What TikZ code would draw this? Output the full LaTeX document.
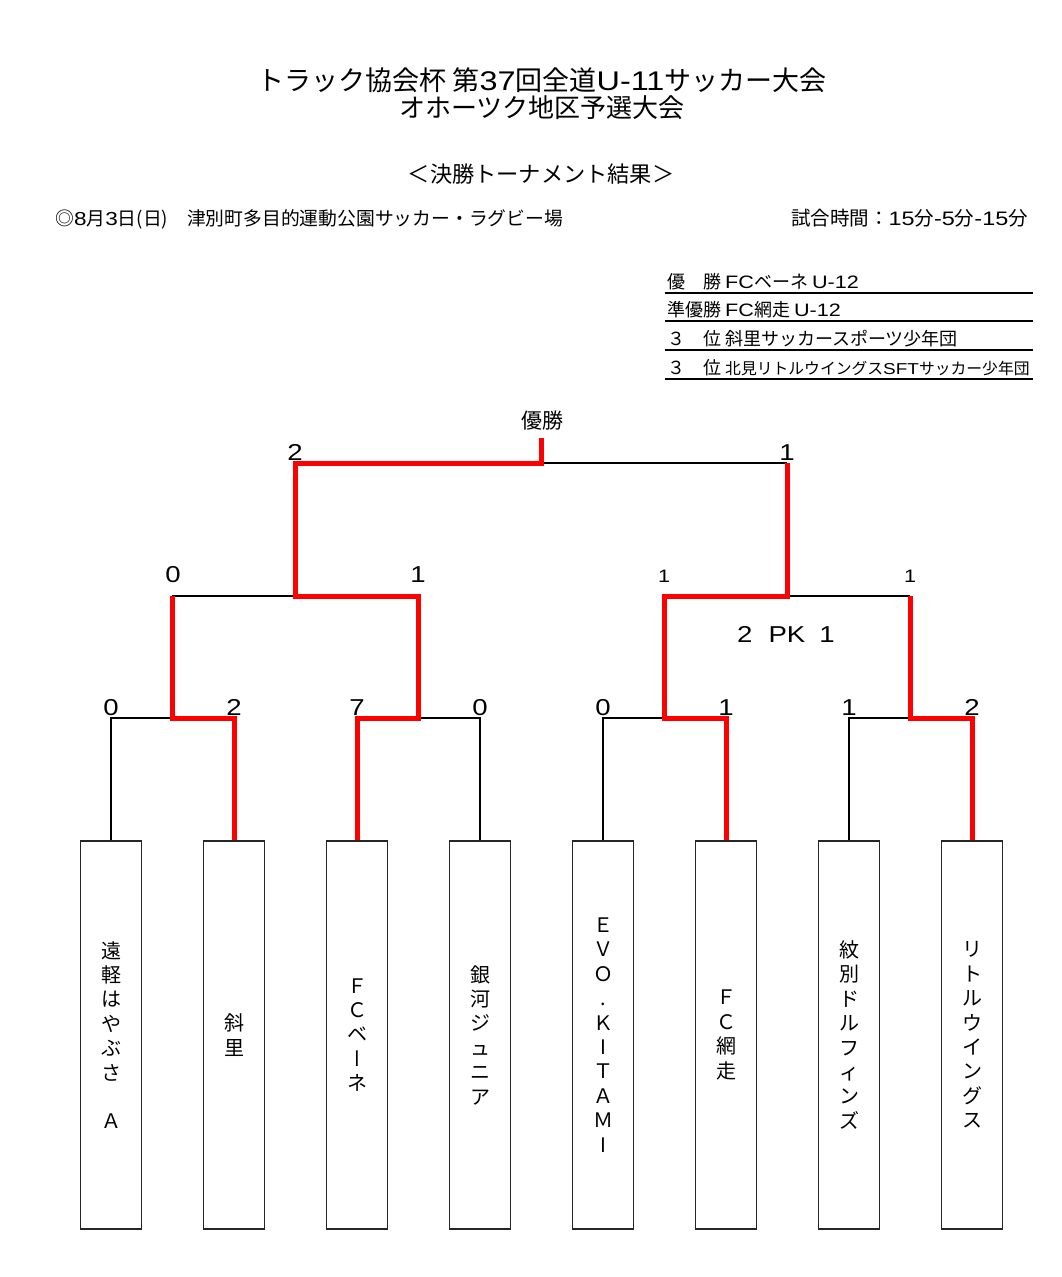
\documentclass[tikz,border=0pt]{standalone}
\usepackage{fontspec}
\setmainfont{Noto Sans CJK JP}
\newfontfamily\lat[FakeStretch=1.2]{Liberation Sans}
\newcommand\vchoon{{\addfontfeature{RawFeature=+vert}ー}}
\begin{document}
\begin{tikzpicture}[x=1pt,y=-1pt,
  teambox/.style={draw=black!85, line width=1.6pt, minimum width=61pt, minimum height=388pt, inner sep=0pt, align=center, font=\fontsize{20}{24.4}\selectfont},
  blackline/.style={line width=1.8pt, black},
  redline/.style={line width=5pt, red, line join=miter},
  scorelbl/.style={anchor=base, inner sep=0pt, font=\fontsize{23}{23}\selectfont\lat},
  smallscore/.style={anchor=base, inner sep=0pt, font=\fontsize{18}{18}\selectfont\lat},
  txt/.style={inner sep=0pt, anchor=base}
]
\useasboundingbox[fill=white] (0,0) rectangle (1062,1277);

% header
\node[txt, font=\fontsize{27}{27}\selectfont] (title1) at (542,90) {トラック協会杯 第{\lat 37}回全道{\lat U-11}サッカー大会};
\node[txt, font=\fontsize{26}{26}\selectfont] (title2) at (542,117) {オホーツク地区予選大会};
\node[txt, font=\fontsize{22.2}{22.2}\selectfont] (sub) at (541,182) {＜決勝トーナメント結果＞};
\node[txt, anchor=base west, font=\fontsize{18.8}{18.8}\selectfont] (date) at (55,225) {◎{\lat 8}月{\lat 3}日(日)　津別町多目的運動公園サッカー・ラグビー場};
\node[txt, anchor=base east, font=\fontsize{19.5}{19.5}\selectfont] (time) at (1028,225) {試合時間：{\lat 15}分{\lat -5}分{\lat -15}分};

% results table
\node[txt, anchor=base west, font=\fontsize{18}{18}\selectfont] (res1) at (667,288) {優　勝 {\lat FC}ベーネ {\lat U-12}};
\node[txt, anchor=base west, font=\fontsize{18}{18}\selectfont] (res2) at (667,316) {準優勝 {\lat FC}網走 {\lat U-12}};
\node[txt, anchor=base west, font=\fontsize{18}{18}\selectfont] (res3) at (667,345) {３　位 斜里サッカースポーツ少年団};
\node[txt, anchor=base west, font=\fontsize{18}{18}\selectfont] (res4) at (667,374) {３　位 {\fontsize{15.8}{15.8}\selectfont 北見リトルウイングス{\lat SFT}サッカー少年団}};
\coordinate (ul1a) at (665,293); \coordinate (ul1b) at (1033,293);
\coordinate (ul2a) at (665,321); \coordinate (ul2b) at (1033,321);
\coordinate (ul3a) at (665,350); \coordinate (ul3b) at (1033,350);
\coordinate (ul4a) at (665,379); \coordinate (ul4b) at (1033,379);
\draw[line width=1.8pt] (ul1a) -- (ul1b);
\draw[line width=1.8pt] (ul2a) -- (ul2b);
\draw[line width=1.8pt] (ul3a) -- (ul3b);
\draw[line width=1.8pt] (ul4a) -- (ul4b);

% team boxes
\node[teambox] (t1) at (111,1035) {遠\\軽\\は\\や\\ぶ\\さ\\　\\Ａ};
\node[teambox] (t2) at (234,1035) {斜\\里};
\node[teambox] (t3) at (357,1035) {Ｆ\\Ｃ\\ベ\\\vchoon\\ネ};
\node[teambox] (t4) at (480,1035) {銀\\河\\ジ\\ュ\\ニ\\ア};
\node[teambox] (t5) at (603,1035) {Ｅ\\Ｖ\\Ｏ\\.\\Ｋ\\I\\Ｔ\\Ａ\\Ｍ\\I};
\node[teambox] (t6) at (726,1035) {Ｆ\\Ｃ\\網\\走};
\node[teambox] (t7) at (849,1035) {紋\\別\\ド\\ル\\フ\\ィ\\ン\\ズ};
\node[teambox] (t8) at (972,1035) {リ\\ト\\ル\\ウ\\イ\\ン\\グ\\ス};

% junctions
\coordinate (m1) at (172,718);
\coordinate (m2) at (418,718);
\coordinate (m3) at (664,718);
\coordinate (m4) at (910,718);
\coordinate (s1) at (295,596);
\coordinate (s2) at (787,596);
\coordinate (f) at (541,463);
\coordinate (champ) at (541,438);

% black lines
\draw[blackline] (t1.north) |- (m1);
\draw[blackline] (t4.north) |- (m2);
\draw[blackline] (t5.north) |- (m3);
\draw[blackline] (t7.north) |- (m4);
\draw[blackline] (m1 |- s1) -- (s1);
\draw[blackline] (s2) -- (m4 |- s2);
\draw[blackline] (f) -- (s2 |- f);

% red winning lines
\draw[redline] (t2.north) |- (m1) -- (m1 |- s1);
\draw[redline] (t3.north) |- (m2) -- (m2 |- s1) -- (s1) -- (s1 |- f) -- (f) -- (champ);
\draw[redline] (t6.north) |- (m3) -- (m3 |- s2) -- (s2) -- (s2 |- f);
\draw[redline] (t8.north) |- (m4) -- (m4 |- s2);

% scores round 1
\node[scorelbl] (a1) at (111,715) {0};
\node[scorelbl] (a2) at (234,715) {2};
\node[scorelbl] (a3) at (357,715) {7};
\node[scorelbl] (a4) at (480,715) {0};
\node[scorelbl] (a5) at (603,715) {0};
\node[scorelbl] (a6) at (726,715) {1};
\node[scorelbl] (a7) at (849,715) {1};
\node[scorelbl] (a8) at (972,715) {2};
% round 2
\node[scorelbl] (b1) at (173,582) {0};
\node[scorelbl] (b2) at (418,582) {1};
\node[smallscore] (b3) at (664,582) {1};
\node[smallscore] (b4) at (910,582) {1};
\node[scorelbl] (pk) at (786,642) {2\hspace{16pt}PK\hspace{14pt}1};
% final
\node[scorelbl] (c1) at (295,460) {2};
\node[scorelbl] (c2) at (787,460) {1};
\node[txt, font=\fontsize{21}{21}\selectfont] (win) at (542,428) {優勝};
\end{tikzpicture}
\end{document}
